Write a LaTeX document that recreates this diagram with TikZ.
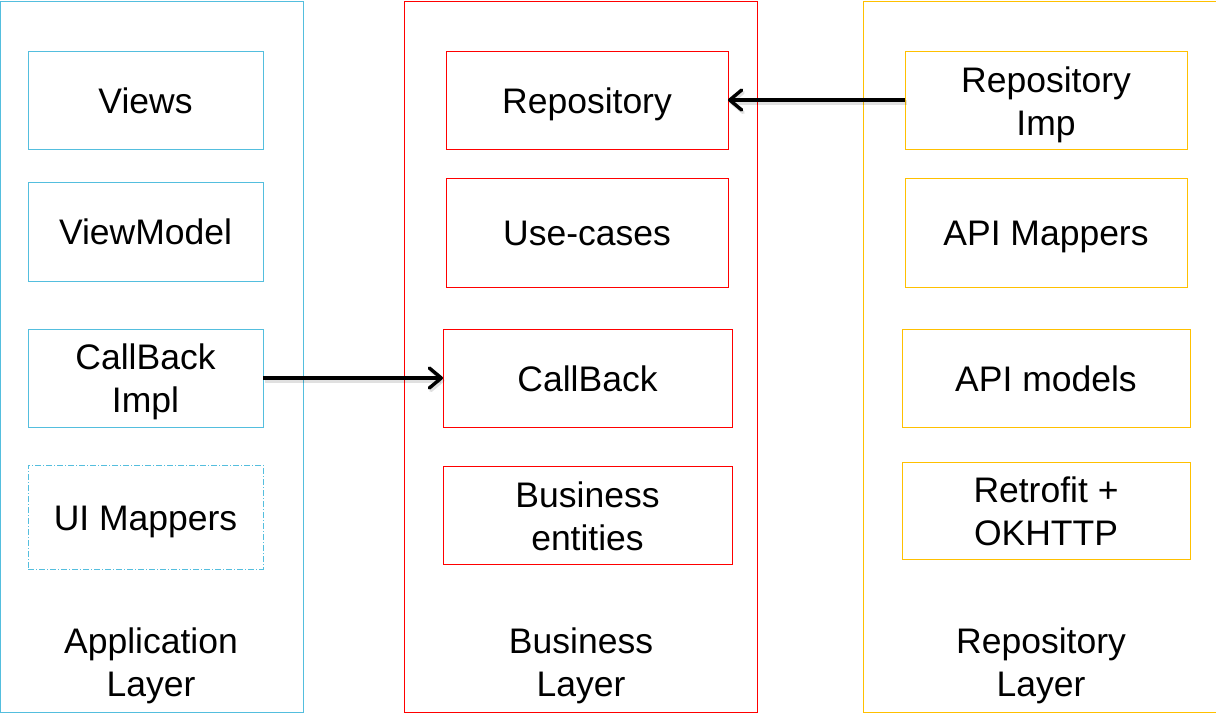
\documentclass[tikz,border=0pt]{standalone}
\usepackage{fontspec}
\setmainfont{Liberation Sans}
\usetikzlibrary{arrows.meta}
\definecolor{appcyan}{RGB}{84,190,222}
\definecolor{busred}{RGB}{255,0,0}
\definecolor{repoyel}{RGB}{255,192,0}
\tikzset{
  x=1pt, y=-1pt,
  every node/.style={font=\fontsize{35.5}{43}\selectfont, align=center, inner sep=0pt, outer sep=0pt},
  box/.style={draw, line width=1pt, minimum width=#1, anchor=north west,
    execute at begin node={\rule{0pt}{33.5pt}},
    execute at end node={\rule[-7.5pt]{0pt}{7.5pt}}},
  boxtwo/.style n args={3}{draw, line width=1pt, minimum width=#1, anchor=north west,
    label={[yshift=#3, draw=none]center:{#2}}},
  apparrow/.style={line width=3.5pt, draw=black,
    -{Straight Barb[length=12pt,width=20pt,line width=3.4pt,round]},
    preaction={draw=black, opacity=0.12, line width=5pt, transform canvas={xshift=1.5pt, yshift=-2.5pt}}},
}
\begin{document}
\begin{tikzpicture}
\useasboundingbox (0,0) rectangle (1216,726);
% layer frames
\draw[appcyan, line width=1pt] (0.5,1) rectangle (303,712);
\draw[busred, line width=1pt] (404,1) rectangle (757,712);
\draw[repoyel, line width=1pt] (1217,1) -- (863,1) -- (863,712) -- (1217,712);

% application layer
\node[box=235pt, minimum height=98pt, draw=appcyan] (views) at (28,51) {Views};
\node[box=235pt, minimum height=99pt, draw=appcyan] (vm) at (28,182) {ViewModel};
\node[boxtwo={235pt}{CallBack\\Impl}{-4pt}, minimum height=98pt, draw=appcyan] (cbimpl) at (28,329) {};
\node[box=235pt, minimum height=104pt, draw=appcyan, dash pattern=on 6pt off 2pt on 1pt off 2pt] (uimap) at (28,465) {UI Mappers};
\node (applbl) at (151,666) {Application\\Layer};

% business layer
\node[box=282pt, minimum height=98pt, draw=busred] (repo) at (446,51) {Repository};
\node[box=282pt, minimum height=109pt, draw=busred] (usecases) at (446,178) {Use-cases};
\node[box=289pt, minimum height=98pt, draw=busred] (cb) at (443,329) {CallBack};
\node[boxtwo={289pt}{Business\\entities}{-1pt}, minimum height=98pt, draw=busred] (entities) at (443,466) {};
\node (buslbl) at (581,666) {Business\\Layer};

% repository layer
\node[boxtwo={282pt}{Repository\\Imp}{-4.5pt}, minimum height=98pt, draw=repoyel] (repoimp) at (905,51) {};
\node[box=282pt, minimum height=109pt, draw=repoyel] (apimap) at (905,178) {API Mappers};
\node[box=288pt, minimum height=98pt, draw=repoyel] (apimod) at (902,329) {API models};
\node[boxtwo={288pt}{Retrofit +\\OKHTTP}{-0.5pt}, minimum height=97pt, draw=repoyel] (retro) at (902,462) {};
\node (repolbl) at (1041,666) {Repository\\Layer};

% connectors
\draw[apparrow] (cbimpl.east) -- (cb.west);
\draw[apparrow] (repoimp.west) -- (repo.east);
\end{tikzpicture}
\end{document}
